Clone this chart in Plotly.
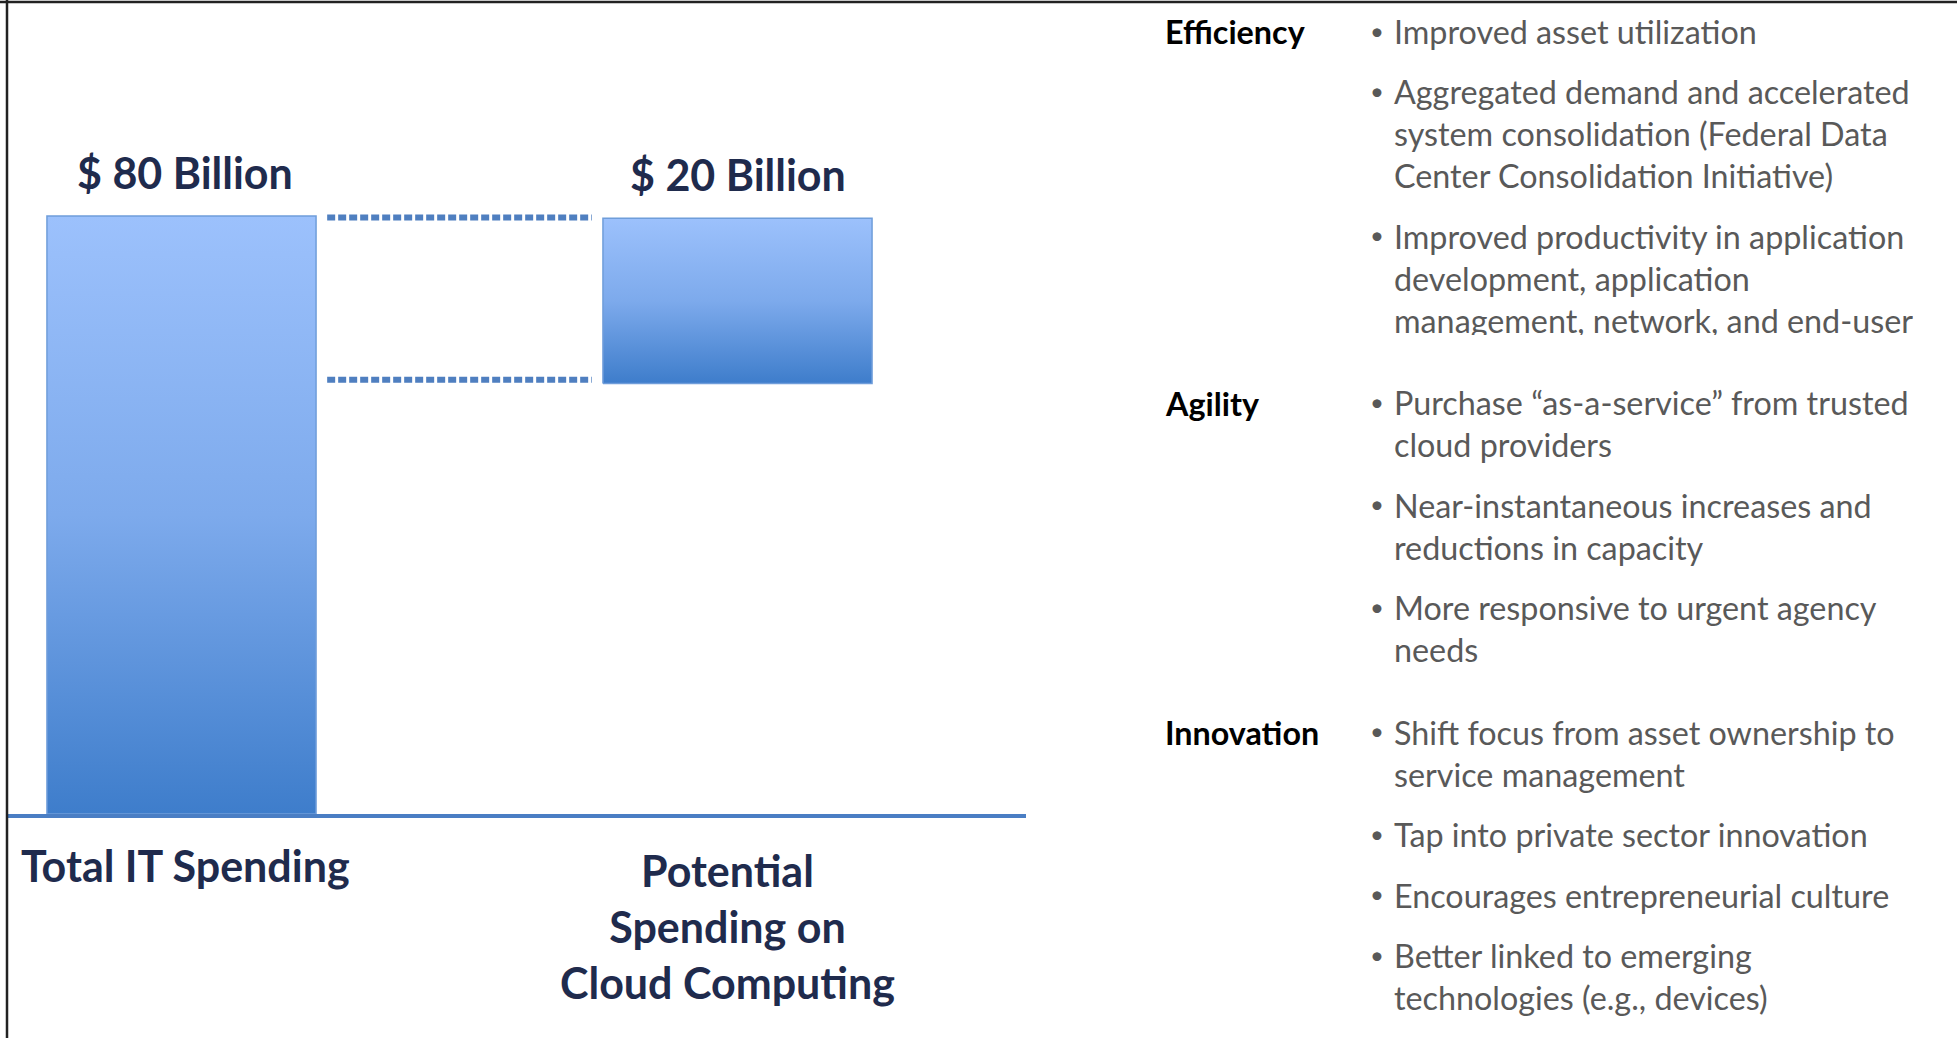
"""
Federal IT spending vs. potential cloud spending, with the cloud benefits list.
"""

import plotly.graph_objects as go

# ---- data -------------------------------------------------------------
categories = ["Total IT Spending", "Potential<br>Spending on<br>Cloud Computing"]
value_labels = ["$ 80 Billion", "$ 20 Billion"]
bar_top = [80, 79.7]     # top of each bar, $ billion
bar_bottom = [0, 57.6]   # bottom of each bar, $ billion
connector_levels = [79.8, 58.1]

groups = ["Efficiency", "Agility", "Innovation"]
efficiency_items = [
    "Improved asset utilization",
    "Aggregated demand and accelerated<br>system consolidation (Federal Data<br>Center Consolidation Initiative)",
    "Improved productivity in application<br>development, application<br>management, network, and end-user",
]
agility_items = [
    "Purchase \u201cas-a-service\u201d from trusted<br>cloud providers",
    "Near-instantaneous increases and<br>reductions in capacity",
    "More responsive to urgent agency<br>needs",
]
innovation_items = [
    "Shift focus from asset ownership to<br>service management",
    "Tap into private sector innovation",
    "Encourages entrepreneurial culture",
    "Better linked to emerging<br>technologies (e.g., devices)",
]

# ---- style ------------------------------------------------------------
W, H = 1957, 1038
BAR_WIDTH = 0.484
FONT = "Lato, 'Open Sans', sans-serif"
NAVY = "#1F2B4D"
GREY = "#595959"
BLUE_LINE = "#4A7EC4"
GRADIENT = [[0.0, "#3E7DCB"], [0.5, "#7DAAEC"], [1.0, "#9CC1FC"]]
category_top_px = [838, 843]
category_xshift = [4, -10]
value_xshift = [3, 0]

LIST_SIZE = 32.3
LINE_H = 1.3 * LIST_SIZE
ITEM_GAP = 18.5
GROUP_GAP = 22
CLIP_BOTTOM_PX = 334   # the last efficiency bullet runs off its text box


def px_to_paper_y(py):
    return 1 - py / H


def px_to_paper_x(px):
    return px / W


fig = go.Figure()

# bars drawn as filled polygons so they can carry a vertical gradient
for i, (top, bottom) in enumerate(zip(bar_top, bar_bottom)):
    x0, x1 = i - BAR_WIDTH / 2, i + BAR_WIDTH / 2
    fig.add_trace(
        go.Scatter(
            x=[x0, x1, x1, x0, x0],
            y=[bottom, bottom, top, top, bottom],
            mode="lines",
            fill="toself",
            fillgradient=dict(type="vertical", colorscale=GRADIENT),
            line=dict(color="#6F9DDA", width=1.5),
            hoverinfo="skip",
            showlegend=False,
        )
    )

# dotted connectors between the two bars
gap = 0.02
for level in connector_levels:
    fig.add_trace(
        go.Scatter(
            x=[BAR_WIDTH / 2 + gap, 1 - BAR_WIDTH / 2 - gap],
            y=[level, level],
            mode="lines",
            line=dict(color="#4F7FC0", width=6, dash="8px,3px"),
            hoverinfo="skip",
            showlegend=False,
        )
    )

annotations = []

# value labels above the bars
for i, (label, top) in enumerate(zip(value_labels, bar_top)):
    annotations.append(
        dict(
            x=i, y=top, xref="x", yref="y",
            text=label, showarrow=False, yanchor="middle", yshift=44,
            xshift=value_xshift[i],
            font=dict(family=FONT, size=43, color=NAVY, weight="bold"),
        )
    )

# category labels under the baseline
for i, cat in enumerate(categories):
    annotations.append(
        dict(
            x=i, y=px_to_paper_y(category_top_px[i]), xref="x", yref="paper",
            text=cat, showarrow=False, yanchor="top", align="center",
            xshift=category_xshift[i],
            font=dict(family=FONT, size=43, color=NAVY, weight="bold"),
        )
    )

# benefits list on the right
head_x = px_to_paper_x(1163)
bullet_x = px_to_paper_x(1368)
text_x = px_to_paper_x(1393)

y = 32
for group, items in zip(groups, [efficiency_items, agility_items, innovation_items]):
    annotations.append(
        dict(
            x=head_x, y=px_to_paper_y(y), xref="paper", yref="paper",
            text=group, showarrow=False, xanchor="left", yanchor="middle",
            font=dict(family=FONT, size=LIST_SIZE, color="#000000", weight="bold"),
        )
    )
    for item in items:
        n_lines = item.count("<br>") + 1
        annotations.append(
            dict(
                x=bullet_x, y=px_to_paper_y(y - 2), xref="paper", yref="paper",
                text="\u2022", showarrow=False, xanchor="left", yanchor="middle",
                font=dict(family=FONT, size=24, color=GREY),
            )
        )
        top_px = y - LINE_H / 2
        box = dict(
            x=text_x, y=px_to_paper_y(top_px), xref="paper", yref="paper",
            text=item, showarrow=False, xanchor="left", yanchor="top",
            align="left", valign="top", borderpad=0,
            font=dict(family=FONT, size=LIST_SIZE, color=GREY),
        )
        if top_px < CLIP_BOTTOM_PX < top_px + n_lines * LINE_H:
            box["height"] = CLIP_BOTTOM_PX - top_px
        annotations.append(box)
        y += n_lines * LINE_H + ITEM_GAP
    y += GROUP_GAP

# frame lines on the top and left edge
shapes = [
    dict(type="line", xref="paper", yref="paper", x0=0, x1=1,
         y0=px_to_paper_y(2), y1=px_to_paper_y(2), line=dict(color="#222222", width=2.5)),
    dict(type="line", xref="paper", yref="paper", x0=px_to_paper_x(7), x1=px_to_paper_x(7),
         y0=0, y1=1, line=dict(color="#222222", width=2.5)),
]

# axis mapping: bar centres at 181.5px and 737.5px, y=0 at 814px, 80 at 216px
x_px_per_unit = 556
x_left_px, x_right_px, x0_px = 7, 1026, 181.5
y_px_per_unit = (814 - 216) / 80

fig.update_layout(
    width=W,
    height=H,
    margin=dict(l=0, r=0, t=0, b=0),
    paper_bgcolor="white",
    plot_bgcolor="white",
    showlegend=False,
    font=dict(family=FONT),
    xaxis=dict(
        domain=[x_left_px / W, x_right_px / W],
        range=[(x_left_px - x0_px) / x_px_per_unit, (x_right_px - x0_px) / x_px_per_unit],
        showgrid=False, zeroline=False, showticklabels=False, ticks="",
        showline=True, linecolor=BLUE_LINE, linewidth=4,
        fixedrange=True,
    ),
    yaxis=dict(
        domain=[1 - 814 / H, 1],
        range=[0, 814 / y_px_per_unit],
        showgrid=False, zeroline=False, showticklabels=False, ticks="",
        showline=False, fixedrange=True,
    ),
    annotations=annotations,
    shapes=shapes,
)

fig.write_html(
    "out.html",
    config={"displayModeBar": False},
    post_script="document.body.style.margin='0';",
)
